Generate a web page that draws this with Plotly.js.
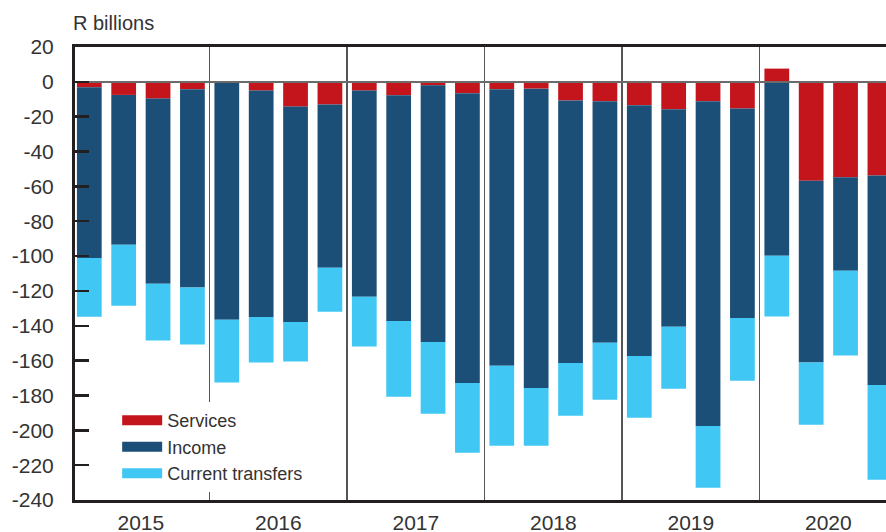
<!DOCTYPE html>
<html>
<head>
<meta charset="utf-8">
<script src="https://cdn.plot.ly/plotly-3.0.1.min.js"></script>
<style>html,body{margin:0;padding:0;background:#fff;}#chart{width:886px;height:532px;}</style>
</head>
<body>
<div id="chart"></div>
<script>
const years = [2015, 2016, 2017, 2018, 2019, 2020];
const quarterNames = ["Q1", "Q2", "Q3", "Q4"];
const quarters = years.flatMap(y => quarterNames.map(q => y + q));

const services = [-3.1, -7.5, -9.6, -4.2, -0.3, -5.0, -14.2, -13.0, -5.0, -7.7, -2.0, -6.5,
                  -4.2, -3.9, -10.7, -11.1, -13.4, -15.7, -11.1, -15.3, 7.6, -56.7, -54.8, -53.7];
const income = [-98.0, -86.0, -106.3, -113.8, -136.3, -129.9, -123.6, -93.7, -118.4, -129.5, -147.3, -166.3,
                -158.8, -171.8, -150.6, -138.7, -143.9, -124.9, -186.4, -120.2, -99.8, -104.4, -53.6, -120.3];
const transfers = [-33.7, -35.0, -32.6, -32.8, -36.0, -26.2, -22.7, -25.3, -28.5, -43.5, -41.2, -40.1,
                   -45.9, -33.2, -30.3, -32.6, -35.5, -35.5, -35.5, -36.0, -34.9, -35.7, -48.7, -54.4];

const yTickVals = [20, 0, -20, -40, -60, -80, -100, -120, -140, -160, -180, -200, -220, -240];
const yTickText = yTickVals.map(v => String(v));

const seriesNames = ["Services", "Income", "Current transfers"];
const seriesColors = ["#c4141c", "#1b4f78", "#41c7f3"];
const seriesValues = [services, income, transfers];

const xIdx = quarters.map((_, i) => i);
const perYear = quarterNames.length;
const yearCenters = years.map((_, i) => i * perYear + (perYear - 1) / 2);
const yearBounds = years.slice(1).map((_, i) => (i + 1) * perYear - 0.5);

const textColor = "#333333";
const font = "Liberation Sans, Arial, sans-serif";

const traces = [];
seriesValues.forEach((vals, k) => {
  traces.push({
    type: "bar", x: xIdx, y: vals, name: seriesNames[k],
    marker: {color: seriesColors[k], line: {width: 0}},
    showlegend: false, hoverinfo: "y+name"
  });
});
seriesValues.forEach((vals, k) => {
  traces.push({
    type: "scatter", mode: "lines", x: [null], y: [null], name: seriesNames[k],
    line: {color: seriesColors[k], width: 10}, showlegend: true, hoverinfo: "skip"
  });
});

const layout = {
  width: 886, height: 532,
  margin: {l: 75, r: 0, t: 47, b: 32, pad: 0},
  paper_bgcolor: "#ffffff", plot_bgcolor: "#ffffff",
  barmode: "relative", bargap: 0.28,
  font: {family: font, color: textColor, size: 20},
  showlegend: true,
  legend: {
    x: 0.052, xanchor: "left", y: 0.216, yanchor: "top",
    bgcolor: "#ffffff", borderwidth: 0, traceorder: "normal",
    font: {family: font, size: 18, color: textColor},
    itemwidth: 40, tracegroupgap: 0
  },
  xaxis: {
    range: [-0.416, 23.177], fixedrange: true,
    tickmode: "array", tickvals: yearCenters, ticktext: years.map(String),
    ticks: "", showgrid: false, zeroline: false,
    showline: true, linewidth: 3, linecolor: "#231f20", mirror: true,
    tickfont: {family: font, size: 21, color: textColor},
    ticklabelstandoff: 2,
    minor: {tickmode: "array", tickvals: yearBounds, showgrid: true, gridcolor: "#555555", gridwidth: 1.5, ticks: ""}
  },
  yaxis: {
    range: [-240, 20], fixedrange: true,
    tickmode: "array", tickvals: yTickVals, ticktext: yTickText,
    ticks: "inside", ticklen: 14, tickwidth: 2.5, tickcolor: "#231f20",
    showgrid: false,
    zeroline: true, zerolinecolor: "#6b6b6b", zerolinewidth: 1.7,
    showline: true, linewidth: 3, linecolor: "#231f20", mirror: false,
    tickfont: {family: font, size: 21, color: textColor},
    ticklabelstandoff: 14,
    layer: "above traces", zerolinelayer: "above traces"
  },
  annotations: [{
    text: "R billions", xref: "paper", yref: "paper", x: 0, y: 1,
    xanchor: "left", yanchor: "middle", xshift: -4, yshift: 24, showarrow: false,
    font: {family: font, size: 20, color: textColor}
  }]
};

Plotly.newPlot("chart", traces, layout, {displayModeBar: false, staticPlot: true});
</script>
</body>
</html>
